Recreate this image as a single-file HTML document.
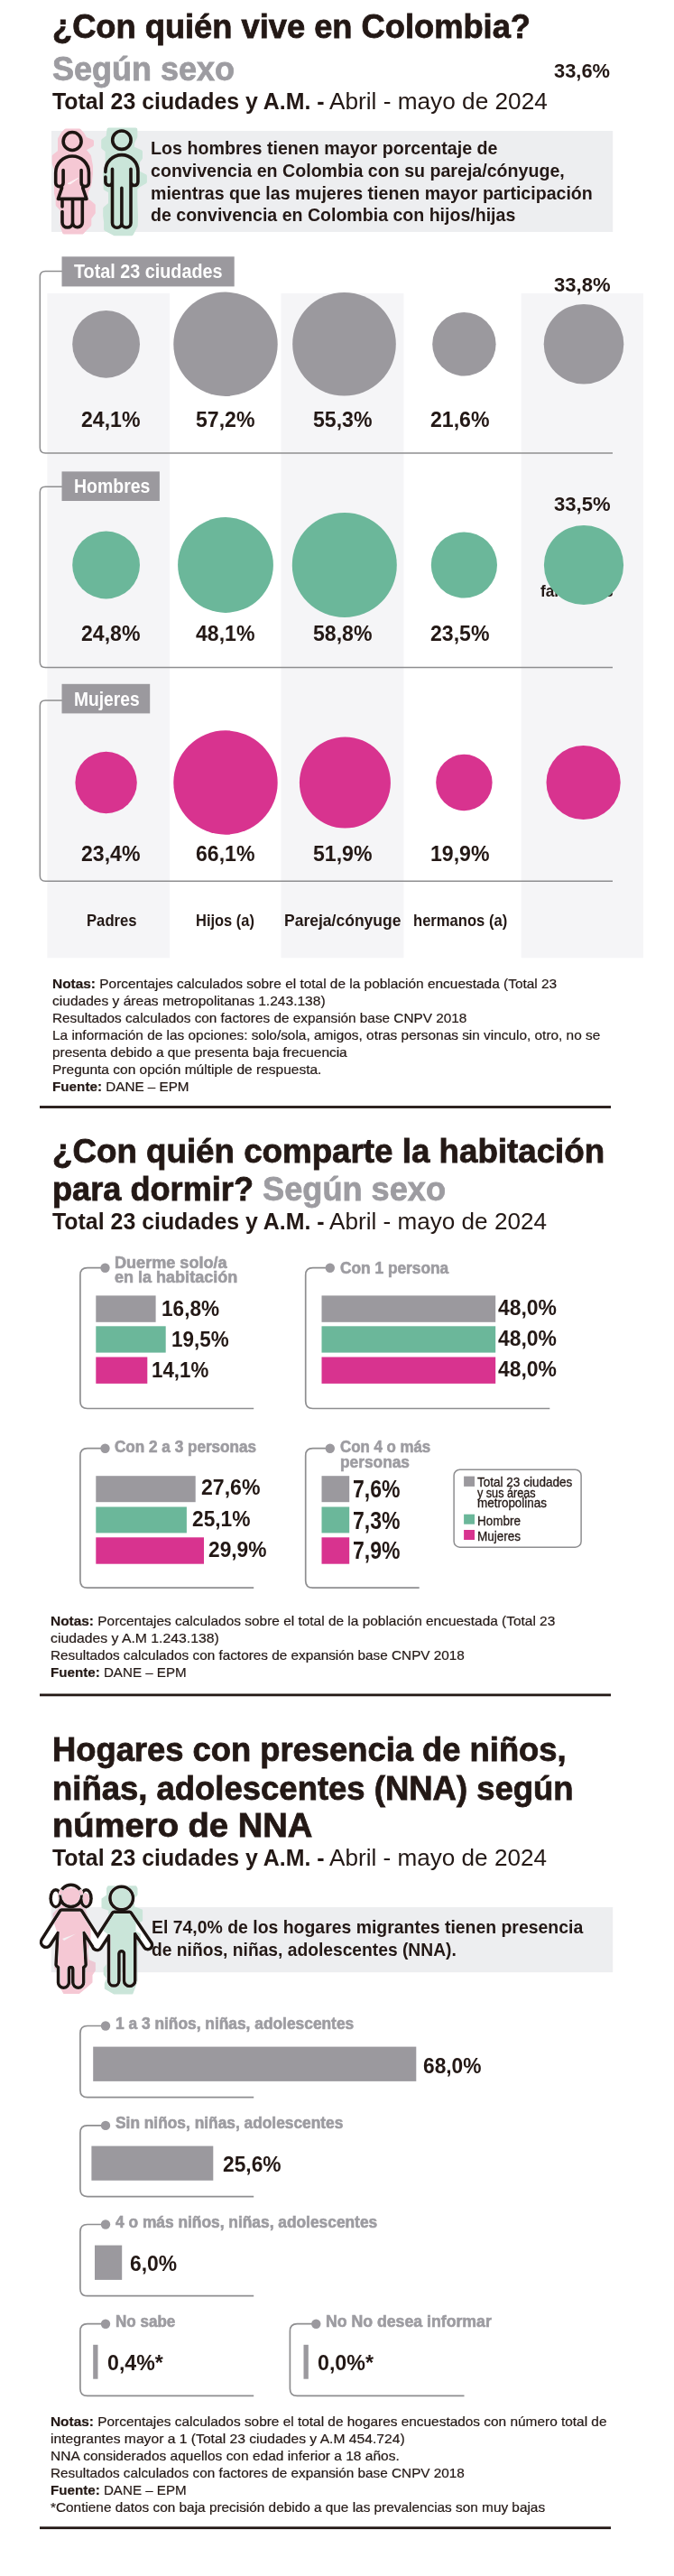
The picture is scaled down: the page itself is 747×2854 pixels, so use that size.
<!DOCTYPE html>
<html lang="es"><head><meta charset="utf-8"><title>Pulso de la migración</title>
<style>
html,body{margin:0;padding:0;background:#fff;}
body{width:747px;height:2854px;position:relative;overflow:hidden;font-family:"Liberation Sans",sans-serif;color:#231815;}
svg.bg{position:absolute;left:0;top:0;}
.t{position:absolute;white-space:nowrap;transform-origin:0 0;font-weight:normal;}
.t.b{font-weight:bold;}
.tx{position:absolute;left:0;top:0;width:747px;height:2854px;will-change:transform;}
</style></head><body>
<svg class="bg" width="747" height="2854" viewBox="0 0 747 2854">
<rect x="57.0" y="145.0" width="622.2" height="112.0" fill="#edeef0" />
<rect x="52.4" y="325.0" width="135.7" height="736.3" fill="#f5f5f7" />
<rect x="311.5" y="325.0" width="135.9" height="736.3" fill="#f5f5f7" />
<rect x="577.7" y="325.0" width="135.2" height="736.3" fill="#f5f5f7" />
<text x="599" y="661" font-family="Liberation Sans, sans-serif" font-weight="bold" font-size="18.5" fill="#231815" textLength="80.7" lengthAdjust="spacingAndGlyphs">familiares</text>
<path d="M69,300.4 H50.3 Q44.3,300.4 44.3,306.4 V496 Q44.3,502 50.3,502 H679" fill="none" stroke="#8e8e90" stroke-width="1.5"/>
<rect x="68.5" y="284.3" width="191.2" height="33.1" fill="#9b999e" />
<circle cx="117.6" cy="381.3" r="37.4" fill="#9b999e"/>
<circle cx="250.0" cy="381.3" r="57.7" fill="#9b999e"/>
<circle cx="381.5" cy="381.3" r="57.3" fill="#9b999e"/>
<circle cx="514.4" cy="381.3" r="35.2" fill="#9b999e"/>
<circle cx="647.0" cy="381.3" r="44.3" fill="#9b999e"/>
<path d="M69,539.2 H50.3 Q44.3,539.2 44.3,545.2 V733.4 Q44.3,739.4 50.3,739.4 H679" fill="none" stroke="#8e8e90" stroke-width="1.5"/>
<rect x="68.5" y="522.4" width="108.4" height="32.6" fill="#9b999e" />
<circle cx="117.6" cy="626.0" r="37.4" fill="#6bb79a"/>
<circle cx="250.0" cy="626.0" r="52.9" fill="#6bb79a"/>
<circle cx="381.8" cy="626.0" r="58.0" fill="#6bb79a"/>
<circle cx="514.4" cy="626.0" r="36.6" fill="#6bb79a"/>
<circle cx="647.0" cy="626.0" r="44.1" fill="#6bb79a"/>
<path d="M69,776 H50.3 Q44.3,776 44.3,782 V970.3 Q44.3,976.3 50.3,976.3 H679" fill="none" stroke="#8e8e90" stroke-width="1.5"/>
<rect x="68.5" y="757.8" width="97.7" height="32.6" fill="#9b999e" />
<circle cx="117.6" cy="867.0" r="34.2" fill="#d8338f"/>
<circle cx="250.0" cy="867.0" r="57.7" fill="#d8338f"/>
<circle cx="382.4" cy="867.0" r="50.5" fill="#d8338f"/>
<circle cx="514.4" cy="867.0" r="31.2" fill="#d8338f"/>
<circle cx="646.6" cy="867.0" r="41.1" fill="#d8338f"/>
<rect x="44.0" y="1225.1" width="633.0" height="2.8" fill="#231815" />
<path d="M116.5,1404.7 H96.9 Q88.9,1404.7 88.9,1412.7 V1552.5 Q88.9,1560.5 96.9,1560.5 H281.2" fill="none" stroke="#8e8e90" stroke-width="1.7"/>
<circle cx="116.5" cy="1404.7" r="5.2" fill="#9b999e"/>
<rect x="106.3" y="1435.4" width="66.3" height="29.4" fill="#9b999e" />
<rect x="106.3" y="1469.3" width="77.4" height="29.3" fill="#6bb79a" />
<rect x="106.3" y="1503.5" width="57.0" height="29.4" fill="#d8338f" />
<path d="M365.8,1404.7 H346.7 Q338.7,1404.7 338.7,1412.7 V1552.5 Q338.7,1560.5 346.7,1560.5 H609.3" fill="none" stroke="#8e8e90" stroke-width="1.7"/>
<circle cx="365.8" cy="1404.7" r="5.2" fill="#9b999e"/>
<rect x="356.5" y="1435.4" width="192.7" height="29.4" fill="#9b999e" />
<rect x="356.5" y="1469.3" width="192.7" height="29.3" fill="#6bb79a" />
<rect x="356.5" y="1503.5" width="192.7" height="29.4" fill="#d8338f" />
<path d="M116.5,1604.7 H96.9 Q88.9,1604.7 88.9,1612.7 V1751.2 Q88.9,1759.2 96.9,1759.2 H281.2" fill="none" stroke="#8e8e90" stroke-width="1.7"/>
<circle cx="116.5" cy="1604.7" r="5.2" fill="#9b999e"/>
<rect x="106.3" y="1635.2" width="110.4" height="29.0" fill="#9b999e" />
<rect x="106.3" y="1669.5" width="100.6" height="28.9" fill="#6bb79a" />
<rect x="106.3" y="1703.3" width="119.7" height="29.4" fill="#d8338f" />
<path d="M365.8,1604.7 H346.7 Q338.7,1604.7 338.7,1612.7 V1751.2 Q338.7,1759.2 346.7,1759.2 H464.7" fill="none" stroke="#8e8e90" stroke-width="1.7"/>
<circle cx="365.8" cy="1604.7" r="5.2" fill="#9b999e"/>
<rect x="356.5" y="1635.2" width="30.7" height="29.0" fill="#9b999e" />
<rect x="356.5" y="1669.5" width="30.7" height="28.9" fill="#6bb79a" />
<rect x="356.5" y="1703.3" width="30.7" height="29.4" fill="#d8338f" />
<rect x="503.1" y="1628.2" width="141" height="86" rx="6.5" fill="#fff" stroke="#8e8e90" stroke-width="1.5"/>
<rect x="514.1" y="1635.6" width="11.9" height="11.3" fill="#9b999e" />
<rect x="514.1" y="1677.7" width="11.9" height="11.0" fill="#6bb79a" />
<rect x="514.1" y="1695.0" width="11.9" height="11.0" fill="#d8338f" />
<rect x="44.0" y="1876.5" width="633.0" height="2.8" fill="#231815" />
<rect x="56.7" y="2113.0" width="622.5" height="72.2" fill="#edeef0" />
<path d="M117,2244.5 H96.9 Q88.9,2244.5 88.9,2252.5 V2315.7 Q88.9,2323.7 96.9,2323.7 H281.2" fill="none" stroke="#8e8e90" stroke-width="1.7"/>
<circle cx="117" cy="2244.5" r="5.2" fill="#9b999e"/>
<rect x="103.2" y="2267.6" width="358.1" height="38.3" fill="#9b999e" />
<path d="M117,2354.9 H96.9 Q88.9,2354.9 88.9,2362.9 V2425.6 Q88.9,2433.6 96.9,2433.6 H281.2" fill="none" stroke="#8e8e90" stroke-width="1.7"/>
<circle cx="117" cy="2354.9" r="5.2" fill="#9b999e"/>
<rect x="101.4" y="2377.6" width="134.9" height="38.2" fill="#9b999e" />
<path d="M117,2464.5 H96.9 Q88.9,2464.5 88.9,2472.5 V2535.7 Q88.9,2543.7 96.9,2543.7 H281.2" fill="none" stroke="#8e8e90" stroke-width="1.7"/>
<circle cx="117" cy="2464.5" r="5.2" fill="#9b999e"/>
<rect x="105.0" y="2487.6" width="30.2" height="38.3" fill="#9b999e" />
<path d="M117,2574.7 H96.9 Q88.9,2574.7 88.9,2582.7 V2646.4 Q88.9,2654.4 96.9,2654.4 H281.2" fill="none" stroke="#8e8e90" stroke-width="1.7"/>
<circle cx="117" cy="2574.7" r="5.2" fill="#9b999e"/>
<rect x="103.2" y="2597.8" width="5.3" height="37.9" fill="#9b999e" />
<path d="M350.3,2574.7 H329.4 Q321.4,2574.7 321.4,2582.7 V2646.4 Q321.4,2654.4 329.4,2654.4 H514.5" fill="none" stroke="#8e8e90" stroke-width="1.7"/>
<circle cx="350.3" cy="2574.7" r="5.2" fill="#9b999e"/>
<rect x="336.5" y="2597.8" width="5.3" height="37.9" fill="#9b999e" />
<rect x="44.0" y="2799.3" width="633.0" height="2.8" fill="#231815" />
<path d="M73,144.5 L88,144.5 L91.5,148.5 L94.5,153.5 L102,156.5 L102,160.5 L93,165.5 L99,173 L101,184 L101,193 L99.3,205 L95.7,212 L96,221 L103.8,227.5 L103.8,235.5 L99.3,241.5 L99.3,249 L91,257.5 L71,257.5 L68.6,249.5 L68.6,232 L63.7,227 L63.7,221 L62,214 L62,187.5 L59.7,181 L59.7,173 L66,168 L66,154 L69.5,148 Z" fill="#f5c8d4" stroke="#f5c8d4" stroke-width="4" stroke-linejoin="round"/>
<path d="M120.5,143.5 L150.3,143.5 L150.3,151.5 L147,158 L147,164 L156,168 L156,175 L153,179 L153,191 L160.9,195 L160.9,201.5 L153,206 L150.3,209 L150.3,222 L151,240 L150.7,250 L146,259.2 L127,259.2 L117.1,254 L117.1,246 L116.2,239 L116.2,231 L122,226 L122,212 L116.6,209 L116.6,204 L116.2,194.5 L116.2,191.5 L118.6,188 L118.6,167 L114.2,163.5 L114.2,155.5 L119.5,151.5 Z" fill="#cae5d9" stroke="#cae5d9" stroke-width="4" stroke-linejoin="round"/>
<path d="M75,203.5 L86.5,197.5 L78,203.8 Z" fill="#fdf3f5" stroke="#fdf3f5" stroke-width="1" stroke-linejoin="round"/>
<circle cx="80.1" cy="156.5" r="10" fill="none" stroke="#1d1512" stroke-width="3.6" stroke-linecap="round" stroke-linejoin="round"/>
<path d="M61.7,202.4 V191.4 A18.4,18.4 0 0 1 98.5,191.4 V202.4 M61.7,202.4 A4.2,4.2 0 0 0 70.1,202.4 V188.6 M98.5,202.4 A4.2,4.2 0 0 1 90.1,202.4 V188.6 M68.6,208.2 L64.4,220.4 H95.9 L91.7,208.2 M69,220.4 V229 M69,234.5 V246.3 A5.75,5.75 0 0 0 80.5,246.3 V220.4 M80.5,246.3 A5.4,5.4 0 0 0 91.3,246.3 V220.4" fill="none" stroke="#1d1512" stroke-width="3.6" stroke-linecap="round" stroke-linejoin="round"/>
<circle cx="134.9" cy="155.2" r="10.2" fill="none" stroke="#1d1512" stroke-width="3.6" stroke-linecap="round" stroke-linejoin="round"/>
<path d="M116.9,201.6 V196 M116.9,190.6 V189.6 A18,18 0 0 1 152.9,189.6 V201.6 M116.9,201.6 A3.8,3.8 0 0 0 124.5,201.6 M152.9,201.6 A3.95,3.95 0 0 1 145,201.6 M124.5,187.2 V247 A5.2,5.2 0 0 0 134.9,247 V208.3 M134.9,247 A5.05,5.05 0 0 0 145,247 V187.2" fill="none" stroke="#1d1512" stroke-width="3.6" stroke-linecap="round" stroke-linejoin="round"/>
<circle cx="78.6" cy="2100.4" r="13.9" fill="#1d1512"/>
<circle cx="134.7" cy="2102.9" r="14.5" fill="#1d1512"/>
<ellipse cx="61.8" cy="2103.2" rx="7.4" ry="11.2" fill="#1d1512"/>
<ellipse cx="95.4" cy="2103.2" rx="7.4" ry="11.2" fill="#1d1512"/>
<path d="M68.2,2117.75 L47.85,2149.6 A3.85,3.85 0 0 0 54.35,2153.8 L63.5,2139.4 L65.7,2140.2 L63.8,2176.8 L66.3,2179 L66.3,2196.4 A4.175,4.175 0 0 0 74.65,2196.4 L74.65,2181.7 A3.95,3.95 0 0 1 82.55,2181.7 L82.55,2196.4 A4.175,4.175 0 0 0 90.9,2196.4 L90.9,2179 L93.4,2176.8 L91.5,2140.2 L93.7,2139.4 L103.75,2155.3 A3.85,3.85 0 0 0 110.25,2151.1 L89,2117.75 Z" fill="#1d1512" stroke="#1d1512" stroke-width="7.0" stroke-linejoin="round"/>
<path d="M126.3,2119.95 L104.6,2153.75 A3.45,3.45 0 0 0 110.4,2157.45 L119.9,2142.8 L122.3,2143.6 L122.3,2194.4 A3.925,3.925 0 0 0 130.15,2194.4 L130.15,2164.5 A4.55,4.55 0 0 1 139.25,2164.5 L139.25,2194.4 A4.35,4.35 0 0 0 147.95,2194.4 L147.95,2141.5 L150.5,2140.7 L161.5,2156.9 A3.05,3.05 0 0 0 166.5,2153.5 L143.7,2119.95 Z" fill="#1d1512" stroke="#1d1512" stroke-width="7.0" stroke-linejoin="round"/>
<circle cx="78.6" cy="2100.4" r="10.4" fill="#fff"/>
<circle cx="134.7" cy="2102.9" r="11" fill="#fff"/>
<ellipse cx="61.8" cy="2103.2" rx="3.9" ry="7.7" fill="#fff"/>
<ellipse cx="95.4" cy="2103.2" rx="3.9" ry="7.7" fill="#fff"/>
<path d="M66.6,2099.5 A12.15,12.15 0 0 1 68.6,2093.6" fill="none" stroke="#fff" stroke-width="3.8"/>
<path d="M90.6,2099.5 A12.15,12.15 0 0 0 88.6,2093.6" fill="none" stroke="#fff" stroke-width="3.8"/>
<path d="M68.2,2117.75 L47.85,2149.6 A3.85,3.85 0 0 0 54.35,2153.8 L63.5,2139.4 L65.7,2140.2 L63.8,2176.8 L66.3,2179 L66.3,2196.4 A4.175,4.175 0 0 0 74.65,2196.4 L74.65,2181.7 A3.95,3.95 0 0 1 82.55,2181.7 L82.55,2196.4 A4.175,4.175 0 0 0 90.9,2196.4 L90.9,2179 L93.4,2176.8 L91.5,2140.2 L93.7,2139.4 L103.75,2155.3 A3.85,3.85 0 0 0 110.25,2151.1 L89,2117.75 Z" fill="#fff"/>
<path d="M126.3,2119.95 L104.6,2153.75 A3.45,3.45 0 0 0 110.4,2157.45 L119.9,2142.8 L122.3,2143.6 L122.3,2194.4 A3.925,3.925 0 0 0 130.15,2194.4 L130.15,2164.5 A4.55,4.55 0 0 1 139.25,2164.5 L139.25,2194.4 A4.35,4.35 0 0 0 147.95,2194.4 L147.95,2141.5 L150.5,2140.7 L161.5,2156.9 A3.05,3.05 0 0 0 166.5,2153.5 L143.7,2119.95 Z" fill="#fff"/>
<path d="M68.0,2092.5 L87.0,2092.5 L91.0,2096.5 L99.5,2100.5 L99.5,2110.0 L93.0,2114.0 L96.0,2122.0 L99.5,2135.0 L99.5,2150.0 L96.5,2160.0 L97.5,2172.0 L104.9,2175.0 L104.9,2183.0 L101.5,2188.0 L101.5,2196.0 L96.0,2201.0 L87.5,2208.0 L71.0,2208.0 L66.5,2200.0 L66.5,2188.0 L61.0,2180.0 L63.5,2170.0 L64.0,2140.0 L59.6,2127.0 L59.6,2120.5 L66.5,2113.5 L65.0,2100.0 Z" fill="#f5c8d4" stroke="#f5c8d4" stroke-width="2.0" stroke-linejoin="round" style="mix-blend-mode:darken"/>
<path d="M120.1,2090.2 L150.4,2090.2 L151.5,2092.5 L151.5,2099.0 L148.0,2103.0 L148.0,2113.0 L157.1,2116.4 L157.1,2127.7 L149.5,2131.0 L149.5,2140.0 L154.9,2143.0 L154.9,2151.8 L151.5,2156.0 L151.5,2195.0 L146.5,2208.5 L126.3,2208.5 L116.8,2203.0 L116.8,2197.5 L119.0,2192.0 L115.7,2187.5 L115.7,2180.5 L120.0,2175.0 L120.0,2142.0 L115.7,2139.0 L115.7,2132.0 L121.3,2127.0 L121.3,2116.0 L113.5,2113.3 L113.5,2104.1 L119.0,2100.0 L119.0,2092.5 Z" fill="#cae5d9" stroke="#cae5d9" stroke-width="2.0" stroke-linejoin="round" style="mix-blend-mode:darken"/>
<path d="M69,2148 L84,2142.5 L71,2150 Z" fill="#f3f1f3"/>
</svg>
<div class="tx">
<div class="t b" style="left:58.0px;top:12.4px;font-size:36.5px;line-height:36.5px;-webkit-text-stroke:0.8px currentColor;transform:scaleX(0.9937);">¿Con quién vive en Colombia?</div>
<div class="t b" style="left:58.0px;top:59.0px;font-size:36.5px;line-height:36.5px;color:#9d9ca1;-webkit-text-stroke:0.8px currentColor;transform:scaleX(0.9860);">Según sexo</div>
<div class="t b" style="left:58.0px;top:99.3px;font-size:26.5px;line-height:26.5px;transform:scaleX(0.9395);">Total 23 ciudades y A.M. -</div>
<div class="t" style="left:365.2px;top:99.3px;font-size:26.5px;line-height:26.5px;transform:scaleX(0.9888);">Abril - mayo de 2024</div>
<div class="t b" style="left:614.0px;top:68.4px;font-size:22px;line-height:22px;transform:scaleX(0.9937);">33,6%</div>
<div class="t b" style="left:167.0px;top:152.9px;font-size:21px;line-height:21px;transform:scaleX(0.9360);">Los hombres tienen mayor porcentaje de</div>
<div class="t b" style="left:167.0px;top:177.9px;font-size:21px;line-height:21px;transform:scaleX(0.9338);">convivencia en Colombia con su pareja/cónyuge,</div>
<div class="t b" style="left:167.0px;top:202.7px;font-size:21px;line-height:21px;transform:scaleX(0.9326);">mientras que las mujeres tienen mayor participación</div>
<div class="t b" style="left:167.0px;top:227.4px;font-size:21px;line-height:21px;transform:scaleX(0.9313);">de convivencia en Colombia con hijos/hijas</div>
<div class="t b" style="left:81.8px;top:290.6px;font-size:21.5px;line-height:21.5px;color:#fff;transform:scaleX(0.9199);">Total 23 ciudades</div>
<div class="t b" style="left:90.2px;top:454.2px;font-size:23.5px;line-height:23.5px;transform:scaleX(0.9829);">24,1%</div>
<div class="t b" style="left:217.2px;top:454.2px;font-size:23.5px;line-height:23.5px;transform:scaleX(0.9829);">57,2%</div>
<div class="t b" style="left:346.9px;top:454.2px;font-size:23.5px;line-height:23.5px;transform:scaleX(0.9829);">55,3%</div>
<div class="t b" style="left:476.6px;top:454.2px;font-size:23.5px;line-height:23.5px;transform:scaleX(0.9829);">21,6%</div>
<div class="t b" style="left:614.0px;top:304.6px;font-size:22px;line-height:22px;transform:scaleX(1.0018);">33,8%</div>
<div class="t b" style="left:81.8px;top:529.3px;font-size:21.5px;line-height:21.5px;color:#fff;transform:scaleX(0.9055);">Hombres</div>
<div class="t b" style="left:90.2px;top:691.3px;font-size:23.5px;line-height:23.5px;transform:scaleX(0.9829);">24,8%</div>
<div class="t b" style="left:217.2px;top:691.3px;font-size:23.5px;line-height:23.5px;transform:scaleX(0.9829);">48,1%</div>
<div class="t b" style="left:346.9px;top:691.3px;font-size:23.5px;line-height:23.5px;transform:scaleX(0.9829);">58,8%</div>
<div class="t b" style="left:476.6px;top:691.3px;font-size:23.5px;line-height:23.5px;transform:scaleX(0.9829);">23,5%</div>
<div class="t b" style="left:614.0px;top:548.1px;font-size:22px;line-height:22px;transform:scaleX(1.0018);">33,5%</div>
<div class="t b" style="left:81.8px;top:764.6px;font-size:21.5px;line-height:21.5px;color:#fff;transform:scaleX(0.8946);">Mujeres</div>
<div class="t b" style="left:90.2px;top:935.2px;font-size:23.5px;line-height:23.5px;transform:scaleX(0.9829);">23,4%</div>
<div class="t b" style="left:217.2px;top:935.2px;font-size:23.5px;line-height:23.5px;transform:scaleX(0.9829);">66,1%</div>
<div class="t b" style="left:346.9px;top:935.2px;font-size:23.5px;line-height:23.5px;transform:scaleX(0.9829);">51,9%</div>
<div class="t b" style="left:476.6px;top:935.2px;font-size:23.5px;line-height:23.5px;transform:scaleX(0.9829);">19,9%</div>
<div class="t b" style="left:95.7px;top:1011.4px;font-size:18.5px;line-height:18.5px;transform:scaleX(0.9009);">Padres</div>
<div class="t b" style="left:217.0px;top:1011.4px;font-size:18.5px;line-height:18.5px;transform:scaleX(0.8906);">Hijos (a)</div>
<div class="t b" style="left:314.7px;top:1011.4px;font-size:18.5px;line-height:18.5px;transform:scaleX(0.9469);">Pareja/cónyuge</div>
<div class="t b" style="left:457.5px;top:1011.4px;font-size:18.5px;line-height:18.5px;transform:scaleX(0.8969);">hermanos (a)</div>
<div class="t" style="left:57.5px;top:1081.7px;font-size:15px;line-height:15px;-webkit-text-stroke:0.2px currentColor;transform:scaleX(1.0286);"><b>Notas:</b> Porcentajes calculados sobre el total de la población encuestada (Total 23</div>
<div class="t" style="left:57.5px;top:1100.8px;font-size:15px;line-height:15px;-webkit-text-stroke:0.2px currentColor;transform:scaleX(1.0368);">ciudades y áreas metropolitanas 1.243.138)</div>
<div class="t" style="left:57.5px;top:1119.8px;font-size:15px;line-height:15px;-webkit-text-stroke:0.2px currentColor;transform:scaleX(1.0219);">Resultados calculados con factores de expansión base CNPV 2018</div>
<div class="t" style="left:57.5px;top:1138.9px;font-size:15px;line-height:15px;-webkit-text-stroke:0.2px currentColor;transform:scaleX(1.0258);">La información de las opciones: solo/sola, amigos, otras personas sin vinculo, otro, no se</div>
<div class="t" style="left:57.5px;top:1158.0px;font-size:15px;line-height:15px;-webkit-text-stroke:0.2px currentColor;transform:scaleX(1.0282);">presenta debido a que presenta baja frecuencia</div>
<div class="t" style="left:57.5px;top:1177.0px;font-size:15px;line-height:15px;-webkit-text-stroke:0.2px currentColor;transform:scaleX(1.0343);">Pregunta con opción múltiple de respuesta.</div>
<div class="t" style="left:57.5px;top:1196.1px;font-size:15px;line-height:15px;-webkit-text-stroke:0.2px currentColor;transform:scaleX(1.0154);"><b>Fuente:</b> DANE – EPM</div>
<div class="t b" style="left:57.8px;top:1258.2px;font-size:36.5px;line-height:36.5px;-webkit-text-stroke:0.8px currentColor;transform:scaleX(1.0062);">¿Con quién comparte la habitación</div>
<div class="t b" style="left:57.8px;top:1299.9px;font-size:36.5px;line-height:36.5px;-webkit-text-stroke:0.8px currentColor;transform:scaleX(0.9906);">para dormir? <span style="color:#9d9ca1">Según sexo</span></div>
<div class="t b" style="left:57.8px;top:1339.9px;font-size:26.5px;line-height:26.5px;transform:scaleX(0.9395);">Total 23 ciudades y A.M. -</div>
<div class="t" style="left:365.0px;top:1339.9px;font-size:26.5px;line-height:26.5px;transform:scaleX(0.9856);">Abril - mayo de 2024</div>
<div class="t b" style="left:126.8px;top:1390.7px;font-size:17.5px;line-height:17.5px;color:#9d9ca1;-webkit-text-stroke:0.6px currentColor;transform:scaleX(1.0331);">Duerme solo/a</div>
<div class="t b" style="left:126.8px;top:1406.7px;font-size:17.5px;line-height:17.5px;color:#9d9ca1;-webkit-text-stroke:0.6px currentColor;transform:scaleX(1.0299);">en la habitación</div>
<div class="t b" style="left:179.3px;top:1437.6px;font-size:24.5px;line-height:24.5px;transform:scaleX(0.9227);">16,8%</div>
<div class="t b" style="left:190.0px;top:1471.8px;font-size:24.5px;line-height:24.5px;transform:scaleX(0.9155);">19,5%</div>
<div class="t b" style="left:168.2px;top:1506.0px;font-size:24.5px;line-height:24.5px;transform:scaleX(0.9098);">14,1%</div>
<div class="t b" style="left:376.5px;top:1397.0px;font-size:17.5px;line-height:17.5px;color:#9d9ca1;-webkit-text-stroke:0.6px currentColor;transform:scaleX(0.9888);">Con 1 persona</div>
<div class="t b" style="left:552.3px;top:1437.0px;font-size:24.5px;line-height:24.5px;transform:scaleX(0.9357);">48,0%</div>
<div class="t b" style="left:552.3px;top:1471.2px;font-size:24.5px;line-height:24.5px;transform:scaleX(0.9357);">48,0%</div>
<div class="t b" style="left:552.3px;top:1505.4px;font-size:24.5px;line-height:24.5px;transform:scaleX(0.9357);">48,0%</div>
<div class="t b" style="left:126.8px;top:1594.5px;font-size:17.5px;line-height:17.5px;color:#9d9ca1;-webkit-text-stroke:0.6px currentColor;transform:scaleX(0.9789);">Con 2 a 3 personas</div>
<div class="t b" style="left:222.5px;top:1636.3px;font-size:24.5px;line-height:24.5px;transform:scaleX(0.9414);">27,6%</div>
<div class="t b" style="left:212.7px;top:1671.0px;font-size:24.5px;line-height:24.5px;transform:scaleX(0.9285);">25,1%</div>
<div class="t b" style="left:231.4px;top:1705.2px;font-size:24.5px;line-height:24.5px;transform:scaleX(0.9285);">29,9%</div>
<div class="t b" style="left:376.5px;top:1594.2px;font-size:18.5px;line-height:18.5px;color:#9d9ca1;-webkit-text-stroke:0.6px currentColor;transform:scaleX(0.9109);">Con 4 o más</div>
<div class="t b" style="left:376.5px;top:1610.6px;font-size:18.5px;line-height:18.5px;color:#9d9ca1;-webkit-text-stroke:0.6px currentColor;transform:scaleX(0.9360);">personas</div>
<div class="t b" style="left:391.2px;top:1636.3px;font-size:28px;line-height:28px;transform:scaleX(0.8225);">7,6%</div>
<div class="t b" style="left:391.2px;top:1670.6px;font-size:28px;line-height:28px;transform:scaleX(0.8225);">7,3%</div>
<div class="t b" style="left:391.2px;top:1704.0px;font-size:28px;line-height:28px;transform:scaleX(0.8225);">7,9%</div>
<div class="t" style="left:529.0px;top:1635.2px;font-size:14px;line-height:14px;-webkit-text-stroke:0.3px currentColor;transform:scaleX(0.9663);">Total 23 ciudades</div>
<div class="t" style="left:529.0px;top:1646.8px;font-size:14px;line-height:14px;-webkit-text-stroke:0.3px currentColor;transform:scaleX(0.9009);">y sus áreas</div>
<div class="t" style="left:529.0px;top:1657.7px;font-size:14px;line-height:14px;-webkit-text-stroke:0.3px currentColor;transform:scaleX(0.9606);">metropolinas</div>
<div class="t" style="left:529.0px;top:1677.6px;font-size:14px;line-height:14px;-webkit-text-stroke:0.3px currentColor;transform:scaleX(0.9639);">Hombre</div>
<div class="t" style="left:529.0px;top:1694.9px;font-size:14px;line-height:14px;-webkit-text-stroke:0.3px currentColor;transform:scaleX(0.9639);">Mujeres</div>
<div class="t" style="left:56.3px;top:1788.0px;font-size:15px;line-height:15px;-webkit-text-stroke:0.2px currentColor;transform:scaleX(1.0287);"><b>Notas:</b> Porcentajes calculados sobre el total de la población encuestada (Total 23</div>
<div class="t" style="left:56.3px;top:1806.9px;font-size:15px;line-height:15px;-webkit-text-stroke:0.2px currentColor;transform:scaleX(1.0511);">ciudades y A.M 1.243.138)</div>
<div class="t" style="left:56.3px;top:1825.8px;font-size:15px;line-height:15px;-webkit-text-stroke:0.2px currentColor;transform:scaleX(1.0210);">Resultados calculados con factores de expansión base CNPV 2018</div>
<div class="t" style="left:56.3px;top:1844.7px;font-size:15px;line-height:15px;-webkit-text-stroke:0.2px currentColor;transform:scaleX(1.0100);"><b>Fuente:</b> DANE – EPM</div>
<div class="t b" style="left:57.8px;top:1920.5px;font-size:36.5px;line-height:36.5px;-webkit-text-stroke:0.8px currentColor;transform:scaleX(0.9958);">Hogares con presencia de niños,</div>
<div class="t b" style="left:57.8px;top:1963.5px;font-size:36.5px;line-height:36.5px;-webkit-text-stroke:0.8px currentColor;transform:scaleX(0.9992);">niñas, adolescentes (NNA) según</div>
<div class="t b" style="left:57.8px;top:2005.2px;font-size:36.5px;line-height:36.5px;-webkit-text-stroke:0.8px currentColor;transform:scaleX(1.0456);">número de NNA</div>
<div class="t b" style="left:57.8px;top:2045.3px;font-size:26.5px;line-height:26.5px;transform:scaleX(0.9395);">Total 23 ciudades y A.M. -</div>
<div class="t" style="left:365.0px;top:2045.3px;font-size:26.5px;line-height:26.5px;transform:scaleX(0.9856);">Abril - mayo de 2024</div>
<div class="t b" style="left:167.8px;top:2124.1px;font-size:21px;line-height:21px;transform:scaleX(0.9249);">El 74,0% de los hogares migrantes tienen presencia</div>
<div class="t b" style="left:167.8px;top:2149.2px;font-size:21px;line-height:21px;transform:scaleX(0.9161);">de niños, niñas, adolescentes (NNA).</div>
<div class="t b" style="left:128.1px;top:2233.6px;font-size:17.5px;line-height:17.5px;color:#9d9ca1;-webkit-text-stroke:0.6px currentColor;transform:scaleX(0.9914);">1 a 3 niños, niñas, adolescentes</div>
<div class="t b" style="left:468.8px;top:2276.8px;font-size:24.5px;line-height:24.5px;transform:scaleX(0.9285);">68,0%</div>
<div class="t b" style="left:128.1px;top:2344.0px;font-size:17.5px;line-height:17.5px;color:#9d9ca1;-webkit-text-stroke:0.6px currentColor;transform:scaleX(0.9906);">Sin niños, niñas, adolescentes</div>
<div class="t b" style="left:246.9px;top:2386.4px;font-size:24.5px;line-height:24.5px;transform:scaleX(0.9299);">25,6%</div>
<div class="t b" style="left:128.1px;top:2453.6px;font-size:17.5px;line-height:17.5px;color:#9d9ca1;-webkit-text-stroke:0.6px currentColor;transform:scaleX(0.9913);">4 o más niños, niñas, adolescentes</div>
<div class="t b" style="left:143.7px;top:2496.1px;font-size:24.5px;line-height:24.5px;transform:scaleX(0.9330);">6,0%</div>
<div class="t b" style="left:128.1px;top:2564.0px;font-size:17.5px;line-height:17.5px;color:#9d9ca1;-webkit-text-stroke:0.6px currentColor;transform:scaleX(0.9739);">No sabe</div>
<div class="t b" style="left:119.2px;top:2606.3px;font-size:24.5px;line-height:24.5px;transform:scaleX(0.9451);">0,4%*</div>
<div class="t b" style="left:361.0px;top:2563.8px;font-size:17.5px;line-height:17.5px;color:#9d9ca1;-webkit-text-stroke:0.6px currentColor;transform:scaleX(1.0107);">No No desea informar</div>
<div class="t b" style="left:352.0px;top:2606.3px;font-size:24.5px;line-height:24.5px;transform:scaleX(0.9481);">0,0%*</div>
<div class="t" style="left:56.3px;top:2674.5px;font-size:15px;line-height:15px;-webkit-text-stroke:0.2px currentColor;transform:scaleX(1.0269);"><b>Notas:</b> Porcentajes calculados sobre el total de hogares encuestados con número total de</div>
<div class="t" style="left:56.3px;top:2693.5px;font-size:15px;line-height:15px;-webkit-text-stroke:0.2px currentColor;transform:scaleX(1.0442);">integrantes mayor a 1 (Total 23 ciudades y A.M 454.724)</div>
<div class="t" style="left:56.3px;top:2712.5px;font-size:15px;line-height:15px;-webkit-text-stroke:0.2px currentColor;transform:scaleX(1.0328);">NNA considerados aquellos con edad inferior a 18 años.</div>
<div class="t" style="left:56.3px;top:2731.5px;font-size:15px;line-height:15px;-webkit-text-stroke:0.2px currentColor;transform:scaleX(1.0210);">Resultados calculados con factores de expansión base CNPV 2018</div>
<div class="t" style="left:56.3px;top:2750.5px;font-size:15px;line-height:15px;-webkit-text-stroke:0.2px currentColor;transform:scaleX(1.0100);"><b>Fuente:</b> DANE – EPM</div>
<div class="t" style="left:56.3px;top:2769.5px;font-size:15px;line-height:15px;-webkit-text-stroke:0.2px currentColor;transform:scaleX(1.0238);">*Contiene datos con baja precisión debido a que las prevalencias son muy bajas</div>
</div>
</body></html>
